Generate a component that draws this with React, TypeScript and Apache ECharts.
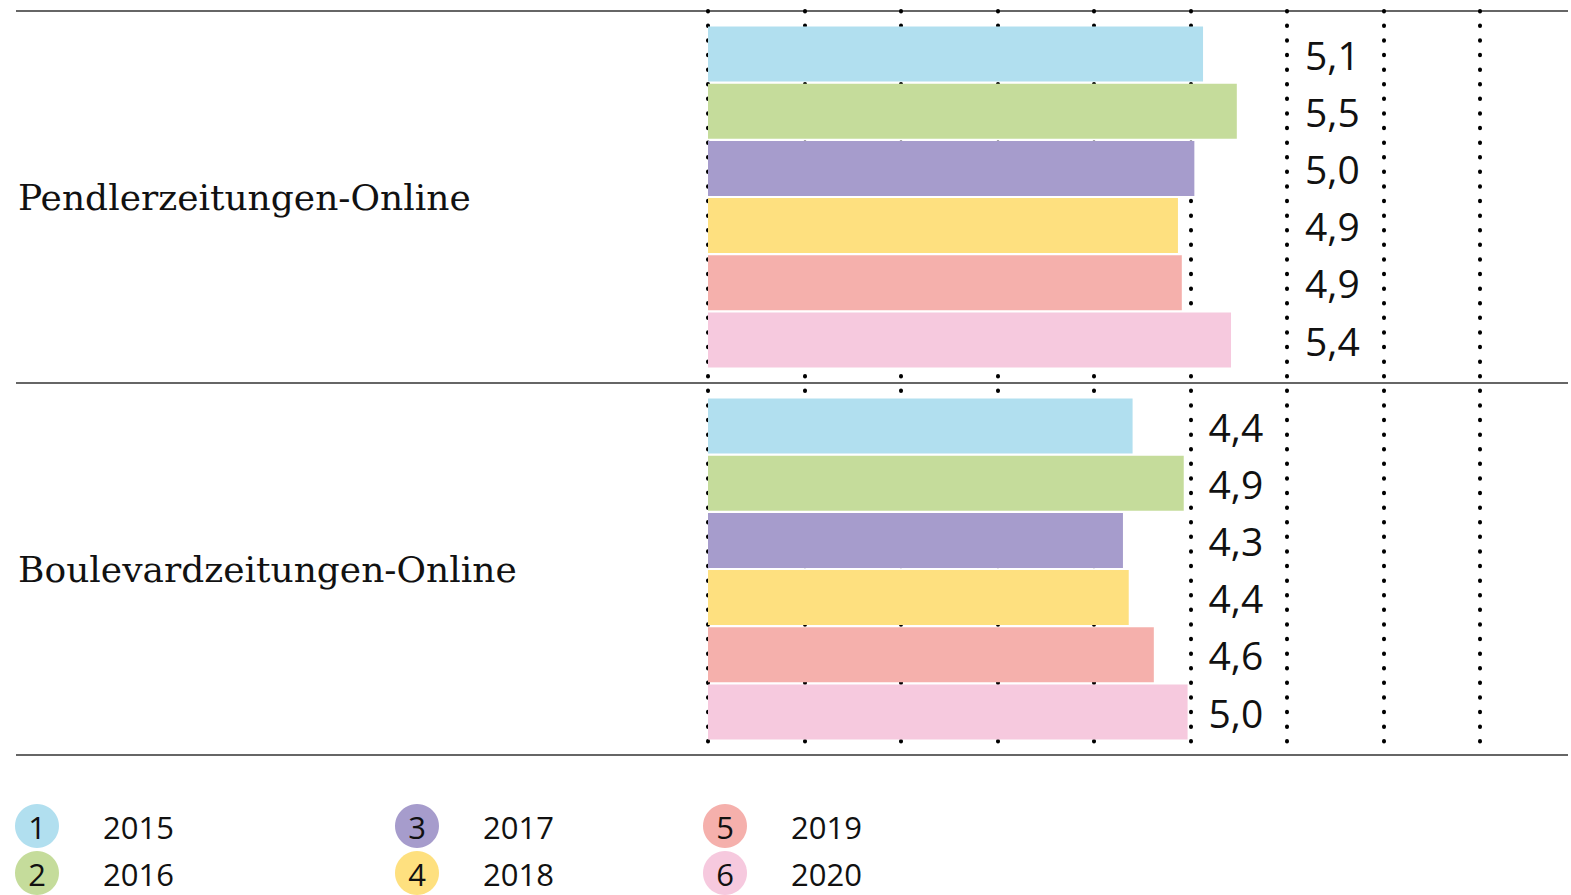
import React, { useEffect, useRef } from "react";
import * as echarts from "echarts";

const categories = ["Pendlerzeitungen-Online", "Boulevardzeitungen-Online"];
const years = ["2015", "2016", "2017", "2018", "2019", "2020"];
const values2015 = [5.13, 4.4];
const values2016 = [5.48, 4.93];
const values2017 = [5.04, 4.3];
const values2018 = [4.87, 4.36];
const values2019 = [4.91, 4.62];
const values2020 = [5.42, 4.97];
const colors = ["#b1dfef", "#c5dc9b", "#a69ccc", "#fee07f", "#f5b0ac", "#f6c9de"];
const xTicks = [0, 1, 2, 3, 4, 5, 6, 7, 8];

const seriesValues = [values2015, values2016, values2017, values2018, values2019, values2020];

export default function App() {
  const ref = useRef<HTMLDivElement>(null);
  useEffect(() => {
    document.body.style.margin = "0";
    if (!ref.current) return;
    const chart = echarts.init(ref.current, null, { renderer: "svg" });
    const anchors = categories.map((_, ci) =>
      Math.ceil(Math.max(...seriesValues.map((v) => v[ci])))
    );
    const unitMax = 8.912;
    const series: any[] = [];
    seriesValues.forEach((vals, si) => {
      series.push({
        type: "bar",
        name: years[si],
        stack: "s" + si,
        xAxisIndex: 1,
        yAxisIndex: 1,
        data: vals,
        barWidth: 55,
        barGap: "4%",
        itemStyle: { color: colors[si] },
        z: 3,
      });
      series.push({
        type: "bar",
        name: years[si] + "-label",
        stack: "s" + si,
        xAxisIndex: 1,
        yAxisIndex: 1,
        data: vals.map((v, ci) => anchors[ci] - v),
        barWidth: 55,
        barGap: "4%",
        itemStyle: { color: "rgba(0,0,0,0)" },
        label: {
          show: true,
          position: "right",
          distance: 18,
          formatter: (p: any) => vals[p.dataIndex].toFixed(1).replace(".", ","),
          fontFamily: "Open Sans",
          fontSize: 39,
          color: "#111",
        },
        z: 3,
      });
    });

    const legendCols = [37, 417, 725];
    const legendRows = [826, 873];
    const legendItems: any[] = [];
    years.forEach((y, i) => {
      const cx = legendCols[Math.floor(i / 2)];
      const cy = legendRows[i % 2];
      legendItems.push({
        type: "circle",
        shape: { cx, cy, r: 22 },
        style: { fill: colors[i] },
      });
      legendItems.push({
        type: "text",
        x: cx,
        y: cy + 1,
        style: {
          text: String(i + 1),
          fontFamily: "Open Sans",
          fontSize: 31,
          fill: "#111",
          align: "center",
          verticalAlign: "middle",
        },
      });
      legendItems.push({
        type: "text",
        x: cx + 66,
        y: cy + 1,
        style: {
          text: y,
          fontFamily: "Open Sans",
          fontSize: 31,
          fill: "#111",
          align: "left",
          verticalAlign: "middle",
        },
      });
    });

    chart.setOption({
      animation: false,
      grid: [
        { left: 16, right: 3, top: 11, height: 744 },
        { left: 708, right: 3, top: 11, height: 744 },
      ],
      xAxis: [
        { gridIndex: 0, type: "value", min: 0, max: 1, show: false },
        {
          gridIndex: 1,
          type: "value",
          min: xTicks[0],
          max: unitMax,
          interval: 1,
          axisLine: { show: false },
          axisTick: { show: false },
          axisLabel: { show: false },
          splitLine: {
            show: true,
            showMaxLine: false,
            lineStyle: { color: "#000", width: 4, type: [0.5, 14.1], cap: "round" },
          },
        },
      ],
      yAxis: [
        {
          gridIndex: 0,
          type: "category",
          data: categories,
          inverse: true,
          axisLine: { show: false },
          axisTick: { show: false },
          axisLabel: {
            inside: true,
            margin: 2,
            fontFamily: "DejaVu Serif",
            fontSize: 36,
            color: "#111",
          },
          splitLine: { show: true, lineStyle: { color: "#333", width: 1.5 } },
        },
        {
          gridIndex: 1,
          type: "category",
          data: categories,
          inverse: true,
          axisLine: { show: false },
          axisTick: { show: false },
          axisLabel: { show: false },
        },
      ],
      graphic: legendItems,
      series,
    });
    return () => chart.dispose();
  }, []);
  return <div ref={ref} style={{ width: 1571, height: 895 }} />;
}
